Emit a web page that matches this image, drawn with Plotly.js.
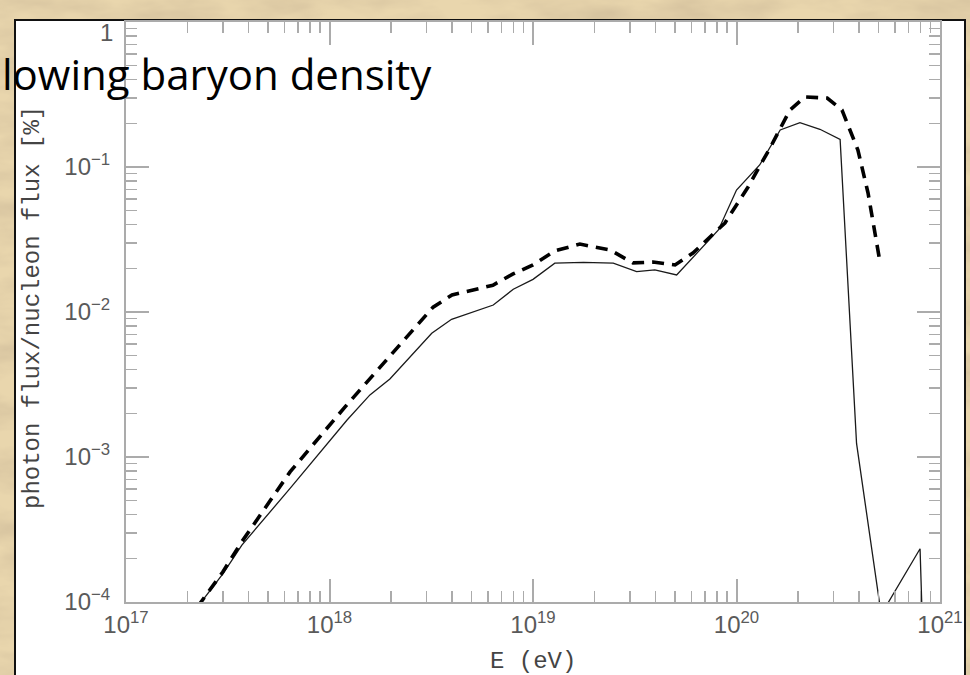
<!DOCTYPE html>
<html>
<head>
<meta charset="utf-8">
<script src="https://cdn.plot.ly/plotly-3.0.1.min.js"></script>
<style>
  html, body { margin: 0; padding: 0; }
  body {
    width: 970px; height: 675px; overflow: hidden;
    background-color: #e9d6ad;
    background-image: url("data:image/svg+xml;utf8,<svg xmlns='http://www.w3.org/2000/svg' width='970' height='675'><filter id='n'><feTurbulence type='fractalNoise' baseFrequency='0.012 0.035' numOctaves='4' seed='7'/><feColorMatrix values='0 0 0 0 0.60  0 0 0 0 0.48  0 0 0 0 0.31  1.3 0 0 0 -0.48'/></filter><rect width='100%' height='100%' filter='url(%23n)'/></svg>");
  }
  #chart { width: 970px; height: 675px; }
</style>
</head>
<body>
<div id="chart"></div>
<script>
// Photon-to-nucleon flux ratio versus energy, two model curves.
const energySolid = [2.24e17, 3.01e17, 3.71e17, 6.40e17, 1.22e18, 1.58e18, 1.98e18, 3.18e18, 3.98e18,
  6.38e18, 8.00e18, 1.00e19, 1.28e19, 1.77e19, 2.48e19, 3.23e19, 3.97e19, 5.08e19, 8.15e19,
  1.00e20, 1.30e20, 1.64e20, 2.05e20, 2.57e20, 3.23e20, 3.89e20, 5.14e20, 7.98e20, 9.0e20];
const ratioSolid = [9.2e-5, 1.58e-4, 2.47e-4, 6.07e-4, 1.80e-3, 2.68e-3, 3.45e-3, 7.13e-3, 8.91e-3,
  1.117e-2, 1.435e-2, 1.68e-2, 2.17e-2, 2.20e-2, 2.17e-2, 1.90e-2, 1.95e-2, 1.80e-2, 3.68e-2,
  6.93e-2, 0.1033, 0.180, 0.202, 0.182, 0.155, 1.24e-3, 8.2e-5, 2.33e-4, 1e-6];

const energyDashed = [2.24e17, 2.99e17, 3.67e17, 6.40e17, 1.19e18, 1.67e18, 2.30e18, 3.23e18, 4.00e18,
  6.35e18, 7.98e18, 1.00e19, 1.28e19, 1.70e19, 2.39e19, 3.10e19, 3.89e19, 4.99e19, 6.11e19,
  8.77e19, 1.14e20, 1.46e20, 1.83e20, 2.17e20, 2.79e20, 3.30e20, 3.95e20, 4.43e20, 5.07e20];
const ratioDashed = [9.2e-5, 1.61e-4, 2.55e-4, 7.89e-4, 2.21e-3, 3.79e-3, 6.41e-3, 1.08e-2, 1.31e-2,
  1.53e-2, 1.83e-2, 2.11e-2, 2.64e-2, 2.94e-2, 2.68e-2, 2.18e-2, 2.21e-2, 2.11e-2, 2.55e-2,
  4.11e-2, 7.28e-2, 0.135, 0.247, 0.304, 0.299, 0.247, 0.131, 6.62e-2, 2.21e-2];

const xTickVals = [1e17, 1e18, 1e19, 1e20, 1e21];
const xTickText = ['10<sup>17</sup>', '10<sup>18</sup>', '10<sup>19</sup>', '10<sup>20</sup>', '10<sup>21</sup>'];
const yTickVals = [1e-4, 1e-3, 1e-2, 1e-1, 1];
const yTickText = ['10<sup>\u22124</sup>', '10<sup>\u22123</sup>', '10<sup>\u22122</sup>', '10<sup>\u22121</sup>', ''];
const yTopLabel = '1';

const titleText = 'lowing baryon density';
const xTitle = 'E (eV)';
const yTitle = 'photon flux/nucleon flux [%]';

// minor ticks at 2..9 times each decade
function minorTicks(lo, hi) {
  const out = [];
  for (let p = lo; p < hi; p++) {
    for (let m = 2; m <= 9; m++) out.push(m * Math.pow(10, p));
  }
  return out;
}

const axisGrey = '#ababab';
const labelGrey = '#5a5a5a';

const traces = [
  {
    x: energySolid, y: ratioSolid, type: 'scatter', mode: 'lines',
    line: { color: '#1a1a1a', width: 1.3 }, showlegend: false, hoverinfo: 'skip'
  },
  {
    x: energyDashed, y: ratioDashed, type: 'scatter', mode: 'lines',
    line: { color: '#000000', width: 3.6, dash: '12px,8px' }, showlegend: false, hoverinfo: 'skip'
  }
];

const L = 126, R = 940, T = 22, B = 602;
const W = R - L, H = B - T;
const px = v => (v - L) / W;
const py = v => (B - v) / H;

const layout = {
  width: 970, height: 675,
  margin: { l: L, r: 970 - R, t: T, b: 675 - B, pad: 0 },
  paper_bgcolor: 'rgba(0,0,0,0)',
  plot_bgcolor: 'rgba(0,0,0,0)',
  xaxis: {
    type: 'log', range: [17, 21], fixedrange: true,
    tickmode: 'array', tickvals: xTickVals, ticktext: xTickText,
    ticks: 'inside', ticklen: 23, tickwidth: 2, tickcolor: axisGrey,
    minor: { tickmode: 'array', tickvals: minorTicks(17, 21), ticks: 'inside', ticklen: 11, tickwidth: 1.5, tickcolor: axisGrey },
    showline: true, linecolor: axisGrey, linewidth: 2, mirror: 'ticks',
    showgrid: false, zeroline: false,
    ticklabelstandoff: 0,
    tickfont: { family: 'Liberation Sans, Arial, sans-serif', size: 24, color: labelGrey }
  },
  yaxis: {
    type: 'log', range: [-4, 0], fixedrange: true,
    tickmode: 'array', tickvals: yTickVals, ticktext: yTickText,
    ticks: 'inside', ticklen: 23, tickwidth: 2, tickcolor: axisGrey,
    minor: { tickmode: 'array', tickvals: minorTicks(-4, 0), ticks: 'inside', ticklen: 11, tickwidth: 1.5, tickcolor: axisGrey },
    showline: true, linecolor: axisGrey, linewidth: 2, mirror: 'ticks',
    showgrid: false, zeroline: false,
    ticklabelstandoff: 9,
    tickfont: { family: 'Liberation Sans, Arial, sans-serif', size: 24, color: labelGrey }
  },
  shapes: [
    {
      type: 'rect', xref: 'paper', yref: 'paper', layer: 'below',
      x0: px(15), x1: px(965), y0: py(690), y1: py(20),
      fillcolor: '#ffffff', line: { color: '#111111', width: 2 }
    }
  ],
  annotations: [
    {
      xref: 'paper', yref: 'paper', x: px(115), y: py(33), xanchor: 'right', yanchor: 'middle',
      text: yTopLabel, showarrow: false,
      font: { family: 'Liberation Sans, Arial, sans-serif', size: 24, color: labelGrey }
    },
    {
      xref: 'paper', yref: 'paper', x: px(32), y: py(308), xanchor: 'center', yanchor: 'middle',
      text: yTitle, textangle: -90, showarrow: false,
      font: { family: 'Liberation Mono, DejaVu Sans Mono, monospace', size: 24, color: '#444444' }
    },
    {
      xref: 'paper', yref: 'paper', x: px(533), y: py(661), xanchor: 'center', yanchor: 'middle',
      text: xTitle, showarrow: false,
      font: { family: 'Liberation Mono, DejaVu Sans Mono, monospace', size: 24, color: '#444444' }
    },
    {
      xref: 'paper', yref: 'paper', x: px(0), y: py(74), xanchor: 'left', yanchor: 'middle',
      text: titleText, showarrow: false,
      font: { family: 'Comic Sans MS, Open Sans, Noto Sans, sans-serif', size: 42, color: '#000000' }
    }
  ]
};

Plotly.newPlot('chart', traces, layout, { staticPlot: true, displayModeBar: false });
</script>
</body>
</html>
